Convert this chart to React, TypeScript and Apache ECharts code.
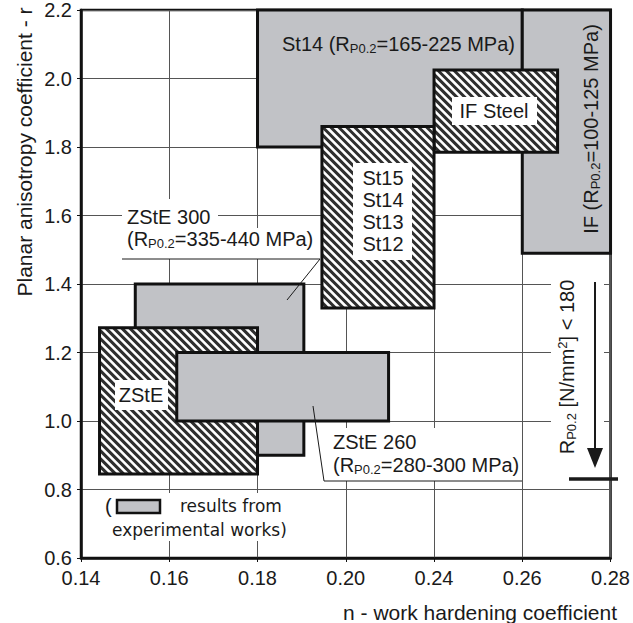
import React, { useEffect, useRef } from "react";
import * as echarts from "echarts";

// ---- axis ticks (as printed on the chart) ----
const xTickValues = [0.14, 0.16, 0.18, 0.2, 0.24, 0.26, 0.28];
const xTickLabels = ["0.14", "0.16", "0.18", "0.20", "0.24", "0.26", "0.28"];
const yMin = 0.6;
const yMax = 2.2;
const yStep = 0.2;

// ---- regions (n = work hardening, r = planar anisotropy) ----
const regionNames = ["St14", "IF", "IF Steel", "St15/St14/St13/St12", "ZStE 300", "ZStE", "ZStE 260"];
const nFrom = [0.18, 0.26, 0.24, 0.1946, 0.1523, 0.1442, 0.1617];
const nTo = [0.26, 0.28, 0.268, 0.24, 0.1905, 0.18, 0.2194];
const rFrom = [1.8, 1.49, 1.785, 1.33, 0.9, 0.845, 1.0];
const rTo = [2.2, 2.2, 2.025, 1.86, 1.4, 1.272, 1.2];
// 1 = hatched (literature), 0 = grey (results from experimental works)
const hatched = [0, 0, 1, 1, 0, 1, 0];

const GRAY = "#c1c2c6";
const INK = "#1a1a1a";
const FONT = "Liberation Sans, Arial, sans-serif";

// piecewise map of a printed n value onto the evenly spaced tick index axis
function toAxis(n: number): number {
  for (let i = 0; i < xTickValues.length - 1; i++) {
    const a = xTickValues[i];
    const b = xTickValues[i + 1];
    if (n <= b || i === xTickValues.length - 2) return i + (n - a) / (b - a);
  }
  return 0;
}

const rich = {
  m: { fontSize: 20, lineHeight: 22, fontFamily: FONT, fill: INK, color: INK },
  s: { fontSize: 13, lineHeight: 10, verticalAlign: "bottom", fontFamily: FONT, fill: INK, color: INK },
  u: { fontSize: 13, lineHeight: 10, verticalAlign: "top", fontFamily: FONT, fill: INK, color: INK },
};

function txt(x: number, y: number, text: string, opts: any = {}) {
  return {
    type: "text",
    x,
    y,
    z: 110,
    rotation: opts.rotation || 0,
    style: {
      text,
      fill: INK,
      fontSize: opts.fontSize || 20,
      fontFamily: opts.fontFamily || FONT,
      align: opts.align || "left",
      verticalAlign: "middle",
      lineHeight: opts.lineHeight,
      rich,
    },
  };
}

function whiteRect(x: number, y: number, w: number, h: number) {
  return { type: "rect", z: 105, shape: { x, y, width: w, height: h }, style: { fill: "#fff" } };
}

function seg(x1: number, y1: number, x2: number, y2: number, w = 1) {
  return { type: "line", z: 106, shape: { x1, y1, x2, y2 }, style: { stroke: INK, lineWidth: w } };
}

export default function App() {
  const ref = useRef<HTMLDivElement>(null);

  useEffect(() => {
    if (!ref.current) return;
    const chart = echarts.init(ref.current, undefined, { renderer: "svg" });

    const data = regionNames.map((_, i) => [toAxis(nFrom[i]), toAxis(nTo[i]), rFrom[i], rTo[i], hatched[i]]);

    const renderItem = (_params: any, api: any) => {
      const tl = api.coord([api.value(0), api.value(3)]);
      const br = api.coord([api.value(1), api.value(2)]);
      const left = tl[0];
      const top = tl[1];
      const right = br[0];
      const bottom = br[1];
      const isH = api.value(4) === 1;
      const shape = { x: left, y: top, width: right - left, height: bottom - top };
      const children: any[] = [{ type: "rect", shape, style: { fill: isH ? "#fff" : GRAY } }];
      if (isH) {
        const step = 8;
        for (let c = top - right; c <= bottom - left; c += step) {
          const xa = Math.max(left, top - c);
          const xb = Math.min(right, bottom - c);
          if (xb - xa > 0.5) {
            children.push({
              type: "line",
              shape: { x1: xa, y1: xa + c, x2: xb, y2: xb + c },
              style: { stroke: "#2e2e2e", lineWidth: 3 },
            });
          }
        }
      }
      children.push({ type: "rect", shape, style: { fill: "none", stroke: "#111", lineWidth: 3 } });
      return { type: "group", children };
    };

    const graphic: any[] = [
      // axis names
      txt(24, 152, "Planar anisotropy coefficient - r", { rotation: Math.PI / 2, align: "center", fontSize: 21 }),
      txt(617, 612, "n - work hardening coefficient", { align: "right", fontSize: 21 }),

      // St14 label
      txt(282, 44, "{m|St14 (R}{s|P0.2}{m|=165-225 MPa)}"),

      // IF vertical label
      txt(591, 129, "{m|IF (R}{s|P0.2}{m|=100-125 MPa)}", { rotation: Math.PI / 2, align: "center" }),

      // IF Steel
      whiteRect(452, 97, 85, 28),
      txt(494, 111, "IF Steel", { align: "center" }),

      // St15..St12
      whiteRect(353, 163, 59, 97),
      txt(383, 211, "St15\nSt14\nSt13\nSt12", { align: "center", lineHeight: 22 }),

      // ZStE inside hatched
      whiteRect(115, 380, 53, 30),
      txt(141, 395, "ZStE", { align: "center" }),

      // ZStE 300 annotation
      whiteRect(122, 199, 96, 30),
      whiteRect(122, 228, 198, 31),
      txt(127, 217, "ZStE 300"),
      txt(127, 239, "{m|(R}{s|P0.2}{m|=335-440 MPa)}"),
      seg(122, 259, 320, 259),
      seg(320, 259, 287, 300),

      // ZStE 260 annotation
      whiteRect(324, 428, 198, 53),
      txt(333, 442, "ZStE 260"),
      txt(333, 465, "{m|(R}{s|P0.2}{m|=280-300 MPa)}"),
      seg(324, 481, 522, 481),
      seg(313, 406, 324, 481),

      // R_p0.2 < 180 vertical note + arrow
      whiteRect(551, 270, 53, 200),
      txt(567, 367, "{m|R}{s|P0.2}{m| [N/mm}{u|2}{m|] < 180}", { rotation: Math.PI / 2, align: "center" }),
      seg(595, 282, 595, 452, 2),
      {
        type: "polygon",
        z: 107,
        shape: { points: [[587, 448], [603, 448], [595, 468]] },
        style: { fill: INK },
      },
      seg(569, 479, 618, 479, 3.5),

      // legend note
      whiteRect(100, 493, 196, 48),
      txt(105, 506, "("),
      {
        type: "rect",
        z: 107,
        shape: { x: 117, y: 500, width: 43, height: 13 },
        style: { fill: GRAY, stroke: "#111", lineWidth: 2.5 },
      },
      txt(180, 506, "results from", { fontSize: 17, fontFamily: "DejaVu Sans, sans-serif" }),
      txt(112, 530, "experimental works)", { fontSize: 17, fontFamily: "DejaVu Sans, sans-serif" }),
    ];

    chart.setOption({
      animation: false,
      backgroundColor: "#fff",
      grid: {
        left: 81,
        right: 15,
        top: 10,
        bottom: 65,
        show: true,
        borderColor: "#111",
        borderWidth: 2.5,
        backgroundColor: "transparent",
      },
      xAxis: {
        type: "value",
        min: 0,
        max: xTickValues.length - 1,
        interval: 1,
        axisLine: { show: true, onZero: false, lineStyle: { color: "#111", width: 2.5 } },
        axisTick: { show: true, length: 4, lineStyle: { color: "#111", width: 1 } },
        axisLabel: {
          formatter: (v: number) => xTickLabels[Math.round(v)] ?? "",
          fontSize: 20,
          fontFamily: FONT,
          color: INK,
          margin: 10,
        },
        splitLine: { show: true, lineStyle: { color: "#555", width: 1 } },
      },
      yAxis: {
        type: "value",
        min: yMin,
        max: yMax,
        interval: yStep,
        axisLine: { show: true, onZero: false, lineStyle: { color: "#111", width: 2.5 } },
        axisTick: { show: true, length: 4, lineStyle: { color: "#111", width: 1 } },
        axisLabel: {
          formatter: (v: number) => v.toFixed(1),
          fontSize: 20,
          fontFamily: FONT,
          color: INK,
          margin: 9,
        },
        splitLine: { show: true, lineStyle: { color: "#555", width: 1 } },
      },
      series: [
        {
          type: "custom",
          renderItem,
          encode: { x: [0, 1], y: [2, 3] },
          data,
          clip: false,
          z: 2,
        },
      ],
      graphic,
    });

    return () => chart.dispose();
  }, []);

  return (
    <div
      ref={ref}
      style={{ position: "fixed", left: 0, top: 0, width: 633, height: 623, background: "#fff" }}
    />
  );
}
